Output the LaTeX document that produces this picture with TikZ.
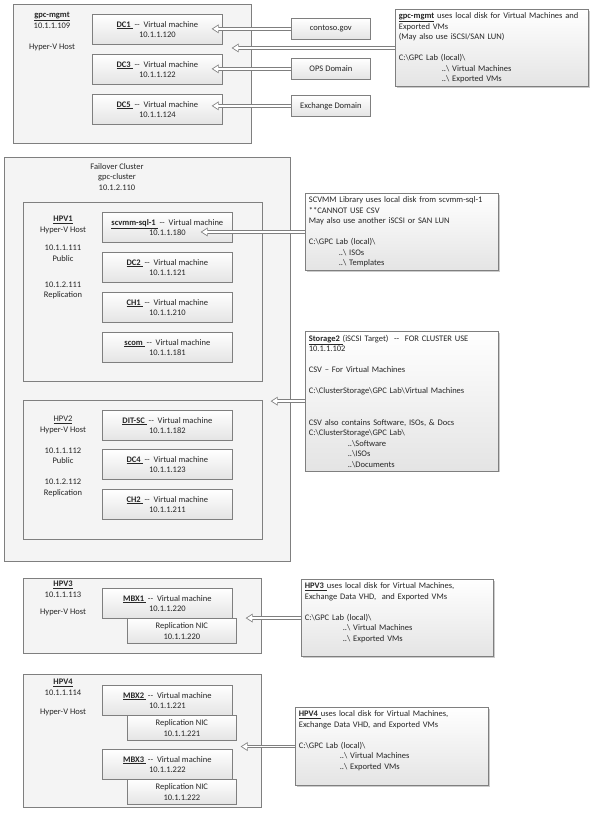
\documentclass[tikz,border=0pt]{standalone}
\usepackage{fontspec}
\setmainfont{Carlito}
\usepackage{tikz}
\usetikzlibrary{arrows.meta,calc,shadows}
\definecolor{edge}{HTML}{7F7F7F}
\definecolor{ink}{HTML}{262626}
\definecolor{hostbg}{HTML}{F4F4F4}
\definecolor{shade}{HTML}{E4E4E4}
\newcommand{\bsl}{\textbackslash}
\newcommand{\vmtxt}[2]{\underline{\textbf{#1}\ }\ -{}-\ \ Virtual machine\\#2}
\newcommand{\padlast}[1]{\rule[-#1]{0pt}{#1}}

\begin{document}
\begin{tikzpicture}[x=1pt,y=-1pt,font=\fontsize{8.5}{10.5}\selectfont,text=ink,
  host/.style={draw=edge,line width=0.7pt,fill=hostbg,anchor=north west,inner sep=0pt},
  vm/.style={draw=edge,line width=0.7pt,top color=white,bottom color=shade,anchor=north west,
             minimum width=130pt,minimum height=30pt,align=center,inner sep=1pt},
  nic/.style={vm,minimum width=109pt,minimum height=25pt},
  dom/.style={vm,minimum width=79pt,minimum height=21pt},
  note/.style={draw=edge,line width=0.7pt,top color=white,bottom color=shade,anchor=north west,
               text width=186pt,align=left,inner xsep=3.5pt,inner ysep=3.5pt,
               drop shadow={shadow xshift=1.2pt,shadow yshift=-1.2pt,fill=black,opacity=0.2}},
  lab/.style={anchor=north,align=center,inner sep=0pt},
  hollow/.style={draw=edge,line width=3.4pt,-{Triangle[length=7pt,width=9pt,line width=0pt]},
    postaction={draw=white,line width=1.8pt,shorten >=1.5pt,
                -{Triangle[length=4.7pt,width=6pt,line width=0pt]}}}]

\useasboundingbox[fill=white] (0,0) rectangle (592,820);

\node[host,minimum width=238pt,minimum height=139pt] (mgmt) at (13,4) {};
\node[lab] (mgmtlab) at (52,12) {\underline{\textbf{gpc-mgmt}}\\10.1.1.109\\[10.5pt]Hyper-V Host};
\node[vm] (dc1) at (92,14) {\vmtxt{DC1}{10.1.1.120}};
\node[vm] (dc3) at (92,54) {\vmtxt{DC3}{10.1.1.122}};
\node[vm] (dc5) at (92,94) {\vmtxt{DC5}{10.1.1.124}};
\node[dom] (ctso) at (291,18) {contoso.gov};
\node[dom] (ops) at (291,58) {OPS Domain};
\node[dom] (exch) at (291,95) {Exchange Domain};
\node[note] (mnote) at (395,9)
  {\underline{\textbf{gpc-mgmt}} uses local disk for Virtual Machines and\\
   Exported VMs\\
   (May also use iSCSI/SAN LUN)\\[10.5pt]
   C:\bsl GPC Lab (local)\bsl\\
   \hspace*{43pt}..\bsl{} Virtual Machines\\
   \hspace*{43pt}..\bsl{} Exported VMs};

\node[host,minimum width=286pt,minimum height=404pt] (clus) at (4,157) {};
\node[lab] (cluslab) at (117,163) {Failover Cluster\\gpc-cluster\\10.1.2.110};
\node[host,minimum width=239pt,minimum height=179pt] (hpv1) at (23,202) {};
\node[lab] (hpv1lab) at (63,216)
  {\underline{\textbf{HPV1}}\\Hyper-V Host\\[8pt]10.1.1.111\\Public\\[15.5pt]10.1.2.111\\Replication};
\node[vm] (scvmm) at (102,212) {\vmtxt{scvmm-sql-1}{10.1.1.180}};
\node[vm] (dc2) at (102,252) {\vmtxt{DC2}{10.1.1.121}};
\node[vm] (ch1) at (102,292) {\vmtxt{CH1}{10.1.1.210}};
\node[vm] (scom) at (102,332) {\vmtxt{scom}{10.1.1.181}};
\node[host,minimum width=239pt,minimum height=139pt] (hpv2) at (23,400) {};
\node[lab] (hpv2lab) at (63,416)
  {\underline{HPV2}\\Hyper-V Host\\[10.5pt]10.1.1.112\\Public\\[10.5pt]10.1.2.112\\Replication};
\node[vm] (ditsc) at (102,410) {\vmtxt{DIT-SC}{10.1.1.182}};
\node[vm] (dc4) at (102,449) {\vmtxt{DC4}{10.1.1.123}};
\node[vm] (ch2) at (102,489) {\vmtxt{CH2}{10.1.1.211}};
\node[note] (snote) at (305,193)
  {SCVMM Library uses local disk from scvmm-sql-1\\
   ***CANNOT USE CSV\\
   May also use another iSCSI or SAN LUN\\[10.5pt]
   C:\bsl GPC Lab (local)\bsl\\
   \hspace*{30pt}..\bsl{} ISOs\\
   \hspace*{30pt}..\bsl{} Templates};
\node[note] (stor) at (305,331)
  {\underline{\textbf{Storage2}\ }(iSCSI Target)\ \ -{}-\ \ FOR CLUSTER USE\\
   10.1.1.102\\[10.5pt]
   CSV -- For Virtual Machines\\[10.5pt]
   C:\bsl ClusterStorage\bsl GPC Lab\bsl Virtual Machines\\[21pt]
   CSV also contains Software, ISOs, \& Docs\\
   C:\bsl ClusterStorage\bsl GPC Lab\bsl\\
   \hspace*{39pt}..\bsl Software\\
   \hspace*{39pt}..\bsl ISOs\\
   \hspace*{39pt}..\bsl Documents};

\node[host,minimum width=238pt,minimum height=75pt] (hpv3) at (23,578) {};
\node[lab] (hpv3lab) at (63,581) {\underline{\textbf{HPV3}}\\10.1.1.113\\[6.5pt]Hyper-V Host};
\node[vm] (mbx1) at (102,588) {\vmtxt{MBX1}{10.1.1.220}};
\node[nic] (nic1) at (127,618) {Replication NIC\\10.1.1.220};
\node[note,text width=185pt] (h3note) at (301,579)
  {\underline{\textbf{HPV3}\ }uses local disk for Virtual Machines,\\
   Exchange Data VHD,\ \ and Exported VMs\\[10.5pt]
   C:\bsl GPC Lab (local)\bsl\\
   \hspace*{38pt}..\bsl{} Virtual Machines\\
   \hspace*{38pt}..\bsl{} Exported VMs\padlast{12pt}};

\node[host,minimum width=238pt,minimum height=133pt] (hpv4) at (23,674) {};
\node[lab] (hpv4lab) at (63,679) {\underline{\textbf{HPV4}}\\10.1.1.114\\[8.5pt]Hyper-V Host};
\node[vm] (mbx2) at (102,685) {\vmtxt{MBX2}{10.1.1.221}};
\node[nic] (nic2) at (127,715) {Replication NIC\\10.1.1.221};
\node[vm] (mbx3) at (102,749) {\vmtxt{MBX3}{10.1.1.222}};
\node[nic] (nic3) at (127,779) {Replication NIC\\10.1.1.222};
\node[note] (h4note) at (295,707)
  {\underline{\textbf{HPV4}\ }uses local disk for Virtual Machines,\\
   Exchange Data VHD, and Exported VMs\\[10.5pt]
   C:\bsl GPC Lab (local)\bsl\\
   \hspace*{41pt}..\bsl{} Virtual Machines\\
   \hspace*{41pt}..\bsl{} Exported VMs\padlast{13pt}};

\draw[hollow] (ctso.west) -- ($(ctso.west -| dc1.east)+(-11,0)$);
\draw[hollow] (ops.west) -- ($(ops.west -| dc3.east)+(-11,0)$);
\draw[hollow] (exch.west) -- ($(exch.west -| dc5.east)+(-11,0)$);
\draw[hollow] (mnote.west) -- ($(mnote.west -| mgmt.east)+(-20,0)$);
\draw[hollow] (snote.west) -- ($(snote.west -| scvmm.east)+(-32,0)$);
\draw[hollow] (stor.west) -- ($(stor.west -| clus.east)+(-20,0)$);
\draw[hollow] (h3note.west) -- ($(h3note.west -| hpv3.east)+(-16,0)$);
\draw[hollow] (h4note.west) -- ($(h4note.west -| hpv4.east)+(-21,0)$);
\end{tikzpicture}
\end{document}
